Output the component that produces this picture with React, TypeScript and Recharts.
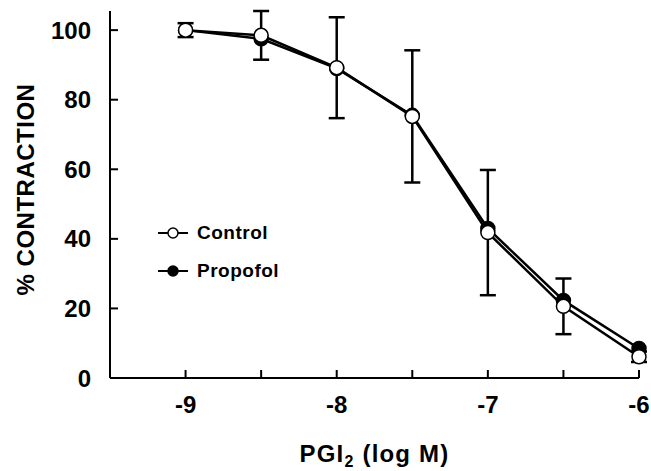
import React from "react";
import { LineChart, Line, XAxis, YAxis, ErrorBar, Legend } from "recharts";

const logDose = [-9, -8.5, -8, -7.5, -7, -6.5, -6];
const control = [100, 98.5, 89.2, 75.2, 41.8, 20.6, 6.1];
const propofol = [100, 97.5, 89, 75.5, 43, 22.3, 8.5];
const controlSem = [2, 7, 14.5, 19, 18, 8, 1.5];

const xTicks = [-9, -8.5, -8, -7.5, -7, -6.5, -6];
const yTicks = [0, 20, 40, 60, 80, 100];

const rows = logDose.map((x, i) => ({
  logM: x,
  control: control[i],
  propofol: propofol[i],
  sem: controlSem[i],
}));

const legendItems = [
  { name: "Control", fill: "#fff" },
  { name: "Propofol", fill: "#000" },
];

const font = "'Liberation Sans', Arial, sans-serif";

function XTick(props: any) {
  const { x, y, payload } = props;
  const v = payload.value;
  return (
    <g>
      <line x1={x} x2={x} y1={y - 18} y2={y - 26} stroke="#000" strokeWidth={2} />
      {Number.isInteger(v) && (
        <text x={x} y={y} dy="0.71em" textAnchor="middle" fontFamily={font} fontWeight={700} fontSize={24} fill="#000">
          {v}
        </text>
      )}
    </g>
  );
}

function YTick(props: any) {
  const { x, y, payload } = props;
  return (
    <g>
      <line x1={x + 19} x2={x + 27} y1={y} y2={y} stroke="#000" strokeWidth={2} />
      <text x={x} y={y} dy="0.36em" textAnchor="end" fontFamily={font} fontWeight={700} fontSize={24} fill="#000">
        {payload.value}
      </text>
    </g>
  );
}

function XTitle(props: any) {
  const { x, y, width } = props.viewBox;
  return (
    <text x={x + width / 2} y={y + 84} textAnchor="middle" fontFamily={font} fontWeight={700} fontSize={24} letterSpacing={1.2} fill="#000">
      PGI
      <tspan fontSize={16} dy={5}>2</tspan>
      <tspan dy={-5}> (log M)</tspan>
    </text>
  );
}

function YTitle(props: any) {
  const { x, y, height } = props.viewBox;
  const cx = x + 25;
  const cy = y + height / 2 - 5;
  return (
    <text x={cx} y={cy} dy="0.36em" transform={`rotate(-90 ${cx} ${cy})`} textAnchor="middle" fontFamily={font} fontWeight={700} fontSize={24} letterSpacing={0.5} fill="#000">
      % CONTRACTION
    </text>
  );
}

function LegendBox() {
  return (
    <div style={{ fontFamily: font, fontWeight: 700, fontSize: 19, color: "#000" }}>
      {legendItems.map((it) => (
        <div key={it.name} style={{ display: "flex", alignItems: "center", height: 38 }}>
          <svg width={32} height={14}>
            <line x1={1} y1={7} x2={31} y2={7} stroke="#000" strokeWidth={2} />
            <circle cx={16} cy={7} r={5} fill={it.fill} stroke="#000" strokeWidth={1.5} />
          </svg>
          <span style={{ marginLeft: 8, letterSpacing: 0.5 }}>{it.name}</span>
        </div>
      ))}
    </div>
  );
}

export default function App() {
  return (
    <div style={{ position: "absolute", left: 0, top: 0, background: "#fff" }}>
      <LineChart width={651} height={471} data={rows} margin={{ top: 11, right: 12, bottom: 0, left: 0 }}>
        <XAxis
          type="number"
          dataKey="logM"
          domain={[-9.5, -6]}
          ticks={xTicks}
          tick={<XTick />}
          tickSize={0}
          tickMargin={18}
          height={93}
          axisLine={{ stroke: "#000", strokeWidth: 2 }}
          label={<XTitle />}
        />
        <YAxis
          type="number"
          domain={[0, 105.5]}
          ticks={yTicks}
          tick={<YTick />}
          tickSize={0}
          tickMargin={19}
          width={110}
          axisLine={{ stroke: "#000", strokeWidth: 2 }}
          label={<YTitle />}
        />
        <Legend layout="vertical" align="center" verticalAlign="middle" content={<LegendBox />} wrapperStyle={{ left: 157, top: 214, width: "auto" }} />
        <Line
          dataKey="propofol"
          name="Propofol"
          stroke="#000"
          strokeWidth={2.5}
          dot={{ r: 7, fill: "#000", stroke: "#000", strokeWidth: 1.5 }}
          activeDot={false}
          isAnimationActive={false}
        />
        <Line
          dataKey="control"
          name="Control"
          stroke="#000"
          strokeWidth={2.5}
          dot={{ r: 7, fill: "#fff", stroke: "#000", strokeWidth: 1.5 }}
          activeDot={false}
          isAnimationActive={false}
        >
          <ErrorBar dataKey="sem" direction="y" width={8} stroke="#000" strokeWidth={2.5} />
        </Line>
      </LineChart>
    </div>
  );
}
